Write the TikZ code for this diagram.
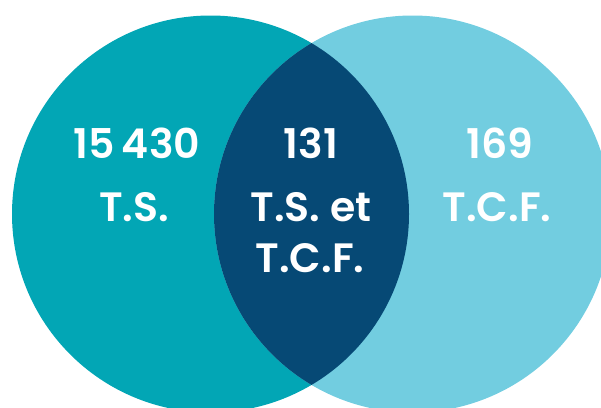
\documentclass[tikz,border=0pt]{standalone}
\usepackage{fontspec}
\setmainfont{Poppins}[UprightFont={* SemiBold}]
\definecolor{tealL}{RGB}{2,166,181}
\definecolor{skyR}{RGB}{114,205,224}
\definecolor{navyM}{RGB}{6,73,117}
\begin{document}
\begin{tikzpicture}[x=1pt,y=-1pt,
  lbl/.style={text=white,font=\fontsize{41}{48}\selectfont,anchor=base,inner sep=0pt}]
\useasboundingbox (0,0) rectangle (601,407);
\clip (0,0) rectangle (601,407);
% the two sets
\fill[tealL] (210.5,214) circle[radius=198.5];
\fill[skyR] (412.5,214) circle[radius=198.5];
% overlap of the two sets
\begin{scope}
  \clip (210.5,214) circle[radius=198.5];
  \fill[navyM] (412.5,214) circle[radius=198.5];
\end{scope}
% counts and labels
\node[lbl] (nL) at (137,158) {15\,430};
\node[lbl] (tL) at (134,221) {T.S.};
\node[lbl] (nM) at (311,158) {131};
\node[lbl] (tM) at (311,221) {T.S. et};
\node[lbl] (tM2) at (310,272) {T.C.F.};
\node[lbl] (nR) at (500,158) {169};
\node[lbl] (tR) at (497,221) {T.C.F.};
\end{tikzpicture}
\end{document}
